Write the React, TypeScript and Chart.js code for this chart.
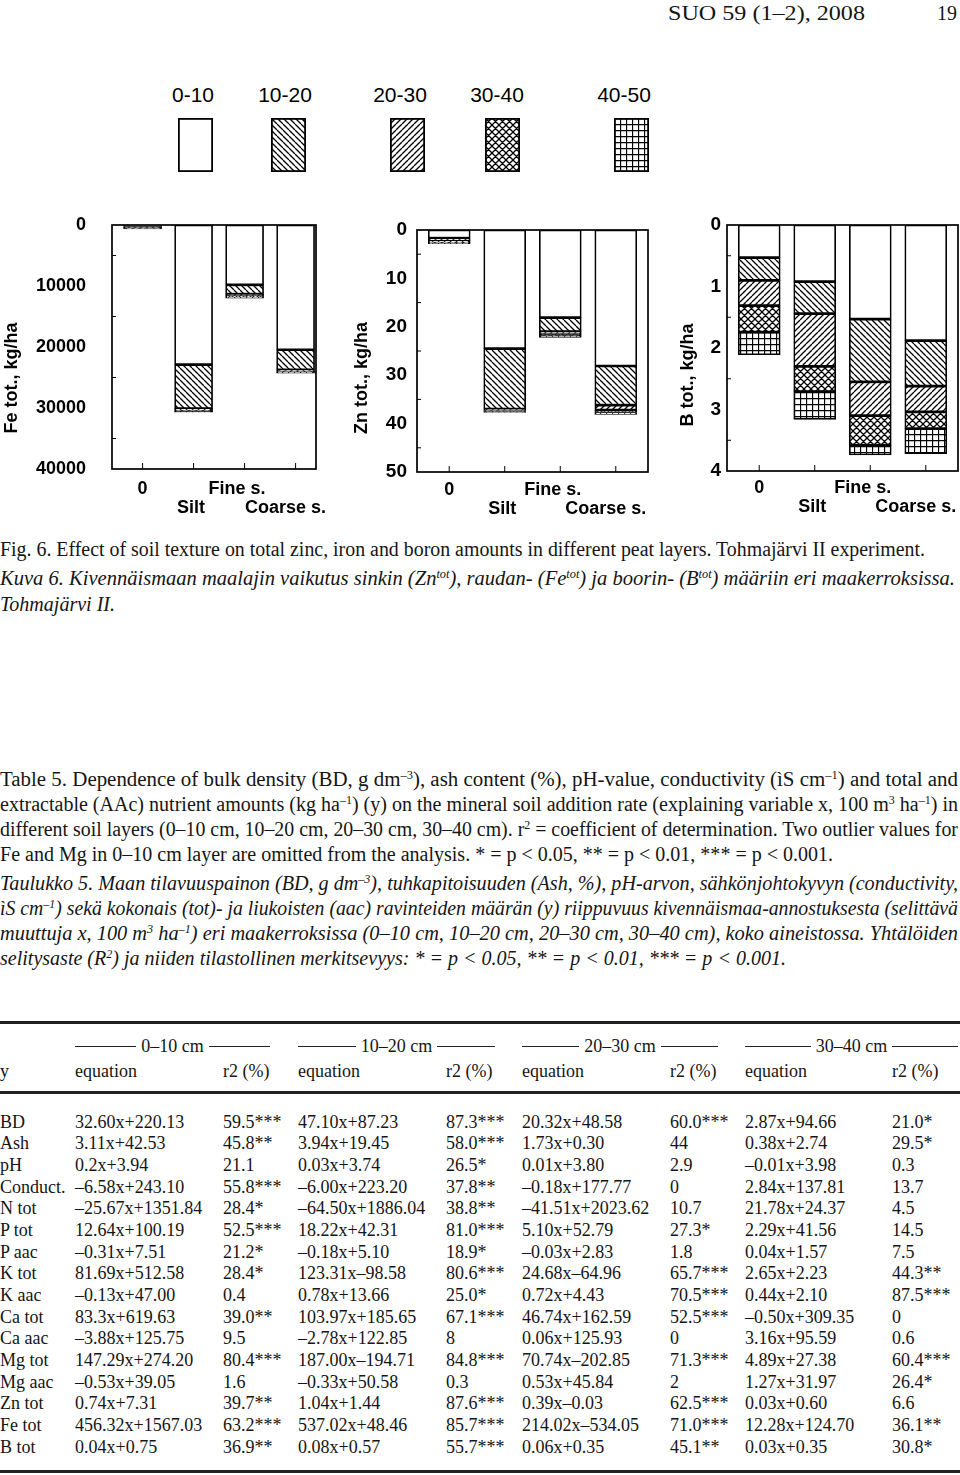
import React, { useEffect, useLayoutEffect, useRef } from "react";
import { Chart, registerables } from "chart.js";
Chart.register(...registerables);

document.body.style.margin = "0";

// ---------------- chart data ----------------
const categories = ["0", "Silt", "Fine s.", "Coarse s."];
const labelNudge = [0, 1, 3, 4]; // trailing spaces to nudge labels left
const layerNames = ["0-10", "10-20", "20-30", "30-40", "40-50"];
const layerHatch = ["none", "back", "fwd", "cross", "grid"];

const fe0_10 = [250, 22900, 9800, 20450];
const fe10_20 = [150, 7200, 1550, 3280];
const fe20_30 = [100, 250, 250, 250];
const fe30_40 = [80, 200, 200, 150];
const fe40_50 = [50, 150, 200, 150];

const zn0_10 = [1.7, 24.5, 18.1, 28.1];
const zn10_20 = [0.5, 12.5, 2.9, 8.1];
const zn20_30 = [0.3, 0.3, 0.5, 1.0];
const zn30_40 = [0.2, 0.2, 0.4, 0.5];
const zn40_50 = [0.1, 0.2, 0.3, 0.4];

const b0_10 = [0.53, 0.92, 1.53, 1.88];
const b10_20 = [0.37, 0.52, 1.02, 0.74];
const b20_30 = [0.41, 0.86, 0.55, 0.42];
const b30_40 = [0.43, 0.41, 0.48, 0.27];
const b40_50 = [0.37, 0.45, 0.16, 0.41];

const feTicksMax = 40000, feStep = 10000;
const znTicksMax = 50, znStep = 10;
const bTicksMax = 4, bStep = 1;

// ---------------- table data ----------------
const yLabels = ["BD", "Ash", "pH", "Conduct.", "N tot", "P tot", "P aac", "K tot", "K aac", "Ca tot", "Ca aac", "Mg tot", "Mg aac", "Zn tot", "Fe tot", "B tot"];
const eq0_10 = ["32.60x+220.13", "3.11x+42.53", "0.2x+3.94", "–6.58x+243.10", "–25.67x+1351.84", "12.64x+100.19", "–0.31x+7.51", "81.69x+512.58", "–0.13x+47.00", "83.3x+619.63", "–3.88x+125.75", "147.29x+274.20", "–0.53x+39.05", "0.74x+7.31", "456.32x+1567.03", "0.04x+0.75"];
const r2_0_10 = ["59.5***", "45.8**", "21.1", "55.8***", "28.4*", "52.5***", "21.2*", "28.4*", "0.4", "39.0**", "9.5", "80.4***", "1.6", "39.7**", "63.2***", "36.9**"];
const eq10_20 = ["47.10x+87.23", "3.94x+19.45", "0.03x+3.74", "–6.00x+223.20", "–64.50x+1886.04", "18.22x+42.31", "–0.18x+5.10", "123.31x–98.58", "0.78x+13.66", "103.97x+185.65", "–2.78x+122.85", "187.00x–194.71", "–0.33x+50.58", "1.04x+1.44", "537.02x+48.46", "0.08x+0.57"];
const r2_10_20 = ["87.3***", "58.0***", "26.5*", "37.8**", "38.8**", "81.0***", "18.9*", "80.6***", "25.0*", "67.1***", "8", "84.8***", "0.3", "87.6***", "85.7***", "55.7***"];
const eq20_30 = ["20.32x+48.58", "1.73x+0.30", "0.01x+3.80", "–0.18x+177.77", "–41.51x+2023.62", "5.10x+52.79", "–0.03x+2.83", "24.68x–64.96", "0.72x+4.43", "46.74x+162.59", "0.06x+125.93", "70.74x–202.85", "0.53x+45.84", "0.39x–0.03", "214.02x–534.05", "0.06x+0.35"];
const r2_20_30 = ["60.0***", "44", "2.9", "0", "10.7", "27.3*", "1.8", "65.7***", "70.5***", "52.5***", "0", "71.3***", "2", "62.5***", "71.0***", "45.1**"];
const eq30_40 = ["2.87x+94.66", "0.38x+2.74", "–0.01x+3.98", "2.84x+137.81", "21.78x+24.37", "2.29x+41.56", "0.04x+1.57", "2.65x+2.23", "0.44x+2.10", "–0.50x+309.35", "3.16x+95.59", "4.89x+27.38", "1.27x+31.97", "0.03x+0.60", "12.28x+124.70", "0.03x+0.35"];
const r2_30_40 = ["21.0*", "29.5*", "0.3", "13.7", "4.5", "14.5", "7.5", "44.3**", "87.5***", "0", "0.6", "60.4***", "26.4*", "6.6", "36.1**", "30.8*"];
const bandLabels = ["0–10 cm", "10–20 cm", "20–30 cm", "30–40 cm"];

// ---------------- layout ----------------
const SERIF = '"Liberation Serif", "Times New Roman", serif';
const SANS = '"Liberation Sans", Arial, Helvetica, sans-serif';
Chart.defaults.font.family = SANS;

const chartSpecs = [
  { left: 0, top: 200, w: 330, h: 330, pl: 112, pt: 225, pr: 316, pb: 469, xMin: -0.6, xMax: 3.4, barW: 38,
    yMax: feTicksMax, step: feStep, title: "Fe tot., kg/ha", titleX: 12.5, titleDy: 31, tickSize: 18, yPad: 26, xPad: 11,
    series: [fe0_10, fe10_20, fe20_30, fe30_40, fe40_50] },
  { left: 330, top: 200, w: 330, h: 330, pl: 417, pt: 230, pr: 648, pb: 472, xMin: -0.58, xMax: 3.58, barW: 42,
    yMax: znTicksMax, step: znStep, title: "Zn tot., kg/ha", titleX: 32, titleDy: 27, tickSize: 19, yPad: 10, xPad: 9,
    series: [zn0_10, zn10_20, zn20_30, zn30_40, zn40_50] },
  { left: 650, top: 200, w: 310, h: 330, pl: 727, pt: 225, pr: 958, pb: 471, xMin: -0.58, xMax: 3.58, barW: 42,
    yMax: bTicksMax, step: bStep, title: "B tot., kg/ha", titleX: 38, titleDy: 27, tickSize: 19, yPad: 6, xPad: 8,
    series: [b0_10, b10_20, b20_30, b30_40, b40_50] },
];

function makePattern(kind: string): CanvasPattern | string {
  if (kind === "none") return "#ffffff";
  const s = kind === "cross" ? 7 : 6;
  const c = document.createElement("canvas");
  c.width = s; c.height = s;
  const g = c.getContext("2d")!;
  g.fillStyle = "#fff"; g.fillRect(0, 0, s, s);
  g.strokeStyle = "#000"; g.lineWidth = 1.3;
  g.beginPath();
  const back = () => { for (let k = -1; k <= 1; k++) { g.moveTo(k * s, 0); g.lineTo(k * s + s, s); } };
  const fwd = () => { for (let k = -1; k <= 1; k++) { g.moveTo(k * s + s, 0); g.lineTo(k * s, s); } };
  if (kind === "back") back();
  if (kind === "fwd") fwd();
  if (kind === "cross") { back(); fwd(); }
  if (kind === "grid") { g.moveTo(0, 0.5); g.lineTo(s, 0.5); g.moveTo(0.5, 0); g.lineTo(0.5, s); }
  g.stroke();
  return g.createPattern(c, "repeat")!;
}

const framePlugin = {
  id: "frame",
  afterDraw(chart: any, _args: any, opts: any) {
    const { ctx, chartArea: a, scales } = chart;
    ctx.save();
    ctx.strokeStyle = "#000";
    ctx.lineWidth = 1.7;
    ctx.strokeRect(a.left, a.top, a.right - a.left, a.bottom - a.top);
    ctx.lineWidth = 1;
    ctx.beginPath();
    categories.forEach((_c, i) => {
      const px = scales.x.getPixelForValue(i);
      ctx.moveTo(px, a.bottom); ctx.lineTo(px, a.bottom - 6);
    });
    for (let v = opts.step / 2; v < opts.yMax; v += opts.step) {
      const py = scales.y.getPixelForValue(v);
      ctx.moveTo(a.left, py); ctx.lineTo(a.left + 4, py);
    }
    ctx.stroke();
    ctx.translate(opts.titleX, (a.top + a.bottom) / 2 + opts.titleDy);
    ctx.rotate(-Math.PI / 2);
    ctx.font = `bold 18px ${SANS}`;
    ctx.textAlign = "center"; ctx.textBaseline = "middle"; ctx.fillStyle = "#000";
    ctx.fillText(opts.title, 0, 0);
    ctx.restore();
  },
};

function StackChart({ spec }: { spec: any }) {
  const ref = useRef<HTMLCanvasElement>(null);
  useEffect(() => {
    const labelLines = categories.map((c, i) => {
      const t = c + " ".repeat(labelNudge[i]);
      return i % 2 === 0 ? t : ["", t];
    });
    const chart = new Chart(ref.current!, {
      type: "bar",
      data: {
        datasets: layerNames.map((name, i) => ({
          label: name,
          data: spec.series[i].map((v: number, j: number) => ({ x: j, y: v })),
          backgroundColor: makePattern(layerHatch[i]) as any,
          borderColor: "#000",
          borderWidth: 1.7,
          borderSkipped: false,
          barThickness: spec.barW,
        })),
      },
      options: {
        animation: false,
        responsive: false,
        devicePixelRatio: 1,
        layout: { padding: { top: spec.pt - spec.top, right: spec.left + spec.w - spec.pr, left: 0, bottom: 0 } },
        plugins: {
          legend: { display: false },
          tooltip: { enabled: false },
          frame: { step: spec.step, yMax: spec.yMax, title: spec.title, titleX: spec.titleX, titleDy: spec.titleDy },
        } as any,
        scales: {
          x: {
            type: "linear", min: spec.xMin, max: spec.xMax, stacked: true, offset: false,
            grid: { display: false, drawTicks: false }, border: { display: false },
            afterBuildTicks: (s: any) => { s.ticks = categories.map((_c, i) => ({ value: i })); },
            ticks: {
              autoSkip: false, maxRotation: 0, minRotation: 0, padding: spec.xPad, color: "#000",
              font: { size: 18, weight: "bold", lineHeight: 1.05 },
              callback: (v: any) => labelLines[Math.round(Number(v))] as any,
            },
            afterFit: (s: any) => { s.height = spec.top + spec.h - spec.pb; s.paddingLeft = 0; s.paddingRight = 0; },
          },
          y: {
            type: "linear", reverse: true, min: 0, max: spec.yMax, stacked: true,
            grid: { display: false, drawTicks: false }, border: { display: false },
            ticks: {
              stepSize: spec.step, padding: spec.yPad, color: "#000",
              font: { size: spec.tickSize, weight: "bold" },
              callback: (v: any) => String(v),
            },
            afterFit: (s: any) => { s.width = spec.pl - spec.left; s.paddingTop = 0; s.paddingBottom = 0; },
          },
        } as any,
      },
      plugins: [framePlugin],
    });
    return () => chart.destroy();
  }, [spec]);
  return (
    <canvas ref={ref} width={spec.w} height={spec.h}
      style={{ position: "absolute", left: spec.left, top: spec.top, width: spec.w, height: spec.h }} />
  );
}

function Swatch({ kind, x, y }: { kind: string; x: number; y: number }) {
  const ref = useRef<HTMLCanvasElement>(null);
  useEffect(() => {
    const c = ref.current!;
    const g = c.getContext("2d")!;
    g.fillStyle = makePattern(kind) as any;
    g.fillRect(0, 0, c.width, c.height);
    g.strokeStyle = "#000"; g.lineWidth = 1.8;
    g.strokeRect(0.9, 0.9, c.width - 1.8, c.height - 1.8);
  }, [kind]);
  return <canvas ref={ref} width={35} height={54} style={{ position: "absolute", left: x, top: y }} />;
}

const legendCx = [193, 285, 400, 497, 624];
const legendBoxX = [178, 271, 390, 485, 614];

function FitLine({ x, cy, w, size, italic, family, children }: any) {
  const ref = useRef<HTMLDivElement>(null);
  useLayoutEffect(() => {
    const el = ref.current;
    if (!el || !w) return;
    el.style.transform = "none";
    const nat = el.getBoundingClientRect().width;
    if (nat > 0) el.style.transform = `scaleX(${w / nat})`;
  }, [w]);
  const lh = Math.round(size * 1.25);
  return (
    <div ref={ref} style={{
      position: "absolute", left: x, top: cy - lh / 2, whiteSpace: "nowrap", fontSize: size, lineHeight: lh + "px",
      fontFamily: family || SERIF, fontStyle: italic ? "italic" : "normal", transformOrigin: "0 0", color: "#151515",
    }}>{children}</div>
  );
}

const Sup = ({ children }: any) => (
  <span style={{ fontSize: "0.6em", position: "relative", top: "-0.55em", lineHeight: 0 }}>{children}</span>
);

function Cell({ x, cy, text }: { x: number; cy: number; text: string }) {
  return (
    <div style={{ position: "absolute", left: x, top: cy - 11, height: 22, lineHeight: "22px", fontSize: 18,
      fontFamily: SERIF, whiteSpace: "nowrap", color: "#151515" }}>{text}</div>
  );
}

const colEqX = [75, 298, 522, 745];
const colR2X = [223, 446, 670, 892];
const bandX = [75, 298, 522, 745];
const bandW = [195, 197, 196, 213];
const rowY0 = 1121.5;
const rowStep = 21.67;

export default function App() {
  const eqCols = [eq0_10, eq10_20, eq20_30, eq30_40];
  const r2Cols = [r2_0_10, r2_10_20, r2_20_30, r2_30_40];
  return (
    <div style={{ position: "relative", width: 960, height: 1475, background: "#fff", overflow: "hidden" }}>
      <FitLine x={668} cy={13} w={197} size={22}>SUO 59 (1–2), 2008</FitLine>
      <FitLine x={937} cy={13} w={20} size={22}>19</FitLine>

      {layerNames.map((n, i) => (
        <div key={n} style={{ position: "absolute", left: legendCx[i] - 50, width: 100, top: 83, height: 24,
          lineHeight: "24px", textAlign: "center", fontFamily: SANS, fontSize: 21, color: "#000" }}>{n}</div>
      ))}
      {layerHatch.map((k, i) => <Swatch key={k} kind={k} x={legendBoxX[i]} y={118} />)}

      {chartSpecs.map((s, i) => <StackChart key={i} spec={s} />)}

      <FitLine x={0} cy={549} w={925} size={20}>Fig. 6. Effect of soil texture on total zinc, iron and boron amounts in different peat layers. Tohmajärvi II experiment.</FitLine>
      <FitLine x={0} cy={578} w={955} size={20} italic>Kuva 6. Kivennäismaan maalajin vaikutus sinkin (Zn<Sup>tot</Sup>), raudan- (Fe<Sup>tot</Sup>) ja boorin- (B<Sup>tot</Sup>) määriin eri maakerroksissa.</FitLine>
      <FitLine x={0} cy={604} w={115} size={20} italic>Tohmajärvi II.</FitLine>

      <FitLine x={0} cy={779} w={958} size={20}>Table 5. Dependence of bulk density (BD, g dm<Sup>–3</Sup>), ash content (%), pH-value, conductivity (ìS cm<Sup>–1</Sup>) and total and</FitLine>
      <FitLine x={0} cy={804} w={958} size={20}>extractable (AAc) nutrient amounts (kg ha<Sup>–1</Sup>) (y) on the mineral soil addition rate (explaining variable x, 100 m<Sup>3</Sup> ha<Sup>–1</Sup>) in</FitLine>
      <FitLine x={0} cy={829} w={958} size={20}>different soil layers (0–10 cm, 10–20 cm, 20–30 cm, 30–40 cm). r<Sup>2</Sup> = coefficient of determination. Two outlier values for</FitLine>
      <FitLine x={0} cy={854} w={833} size={20}>Fe and Mg in 0–10 cm layer are omitted from the analysis. * = p &lt; 0.05, ** = p &lt; 0.01, *** = p &lt; 0.001.</FitLine>

      <FitLine x={0} cy={883} w={958} size={20} italic>Taulukko 5. Maan tilavuuspainon (BD, g dm<Sup>–3</Sup>), tuhkapitoisuuden (Ash, %), pH-arvon, sähkönjohtokyvyn (conductivity,</FitLine>
      <FitLine x={0} cy={908} w={958} size={20} italic>ìS cm<Sup>–1</Sup>) sekä kokonais (tot)- ja liukoisten (aac) ravinteiden määrän (y) riippuvuus kivennäismaa-annostuksesta (selittävä</FitLine>
      <FitLine x={0} cy={933} w={958} size={20} italic>muuttuja x, 100 m<Sup>3</Sup> ha<Sup>–1</Sup>) eri maakerroksissa (0–10 cm, 10–20 cm, 20–30 cm, 30–40 cm), koko aineistossa. Yhtälöiden</FitLine>
      <FitLine x={0} cy={958} w={786} size={20} italic>selitysaste (R<Sup>2</Sup>) ja niiden tilastollinen merkitsevyys: * = p &lt; 0.05, ** = p &lt; 0.01, *** = p &lt; 0.001.</FitLine>

      <div style={{ position: "absolute", left: 0, top: 1021, width: 960, height: 3, background: "#222" }} />
      {bandLabels.map((t, i) => (
        <div key={t} style={{ position: "absolute", left: bandX[i], top: 1046 - 11, width: bandW[i], height: 22,
          display: "flex", alignItems: "center", fontFamily: SERIF, fontSize: 18, color: "#151515" }}>
          <div style={{ flex: 1, height: 1, background: "#222", marginTop: 1 }} />
          <span style={{ padding: "0 5px", whiteSpace: "nowrap" }}>{t}</span>
          <div style={{ flex: 1, height: 1, background: "#222", marginTop: 1 }} />
        </div>
      ))}
      <Cell x={0} cy={1071} text="y" />
      {colEqX.map((x, i) => <Cell key={"e" + i} x={x} cy={1071} text="equation" />)}
      {colR2X.map((x, i) => <Cell key={"r" + i} x={x} cy={1071} text="r2 (%)" />)}
      <div style={{ position: "absolute", left: 0, top: 1091, width: 960, height: 3, background: "#222" }} />

      {yLabels.map((lab, r) => {
        const cy = rowY0 + r * rowStep;
        return (
          <React.Fragment key={lab}>
            <Cell x={0} cy={cy} text={lab} />
            {eqCols.map((col, c) => <Cell key={"e" + c} x={colEqX[c]} cy={cy} text={col[r]} />)}
            {r2Cols.map((col, c) => <Cell key={"r" + c} x={colR2X[c]} cy={cy} text={col[r]} />)}
          </React.Fragment>
        );
      })}
      <div style={{ position: "absolute", left: 0, top: 1470, width: 960, height: 3, background: "#222" }} />
    </div>
  );
}
